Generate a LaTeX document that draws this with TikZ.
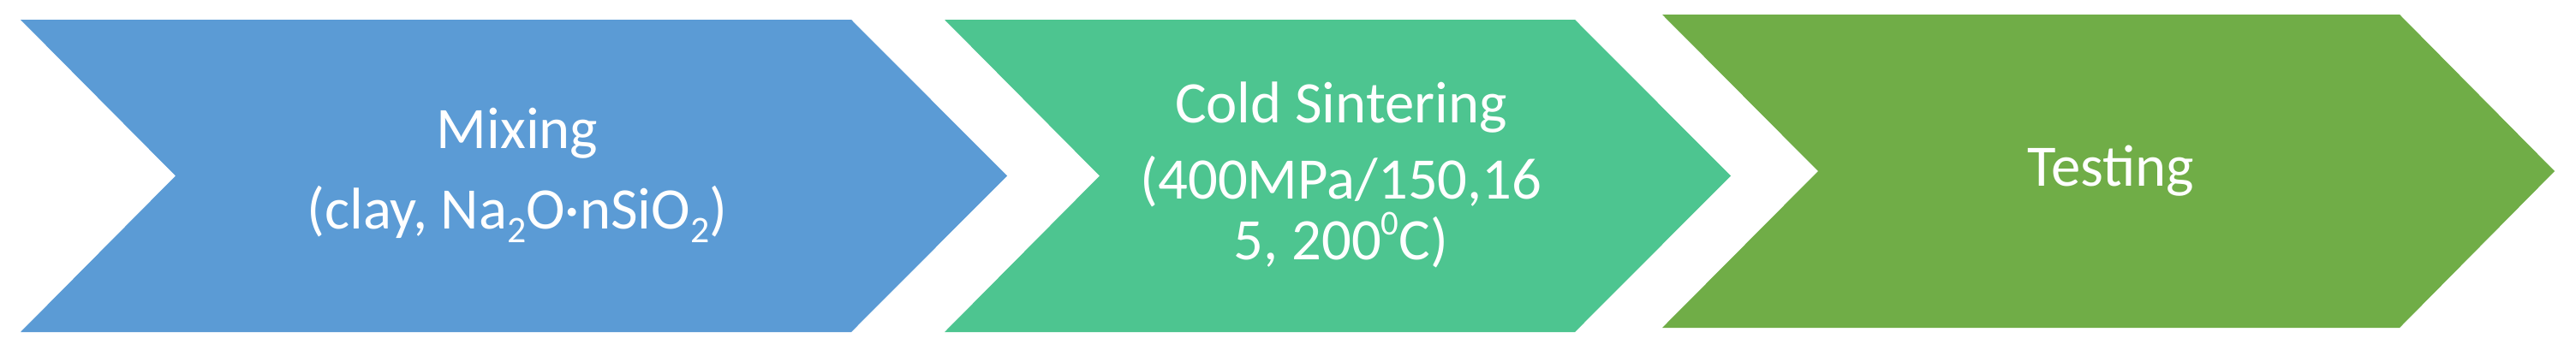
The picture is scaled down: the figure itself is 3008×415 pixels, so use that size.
\documentclass[tikz,border=0pt]{standalone}
\usepackage{fontspec}
\setmainfont{Carlito}
\definecolor{cblue}{HTML}{5B9BD5}
\definecolor{cgreen}{HTML}{4DC590}
\definecolor{colive}{HTML}{70AD47}
\newcommand{\subtwo}{\raisebox{-16bp}{\fontsize{44}{44}\selectfont 2}}
\newcommand{\supzero}{\raisebox{29bp}{\fontsize{41}{41}\selectfont 0}}
\begin{document}
\begin{tikzpicture}[x=1bp,y=-1bp,
  lbl/.style={text=white,anchor=base,inner sep=0pt,font=\fontsize{69}{71}\selectfont}]
\useasboundingbox (0,0) rectangle (3008,415);
% chevrons
\fill[cblue] (24,23) -- (994,23) -- (1176,205.5) -- (994,388) -- (24,388) -- (205,205.5) -- cycle;
\fill[cgreen] (1103,23) -- (1839,23) -- (2021,205.5) -- (1839,388) -- (1103,388) -- (1284,205.5) -- cycle;
\fill[colive] (1941,17) -- (2802,17) -- (2983,200) -- (2802,383) -- (1941,383) -- (2123,200) -- cycle;
% texts
\node[lbl] (mix1) at (604,173) {Mixing};
\node[lbl] (mix2) at (604,267) {(clay, Na\subtwo O·nSiO\subtwo)};
\node[lbl] (cs1) at (1566,143) {Cold Sintering};
\node[lbl] (cs2) at (1566,232) {(400MPa/150,16};
\node[lbl] (cs3) at (1566,303) {5, 200\supzero C)};
\node[lbl] (test) at (2465,217) {Testing};
\end{tikzpicture}
\end{document}
